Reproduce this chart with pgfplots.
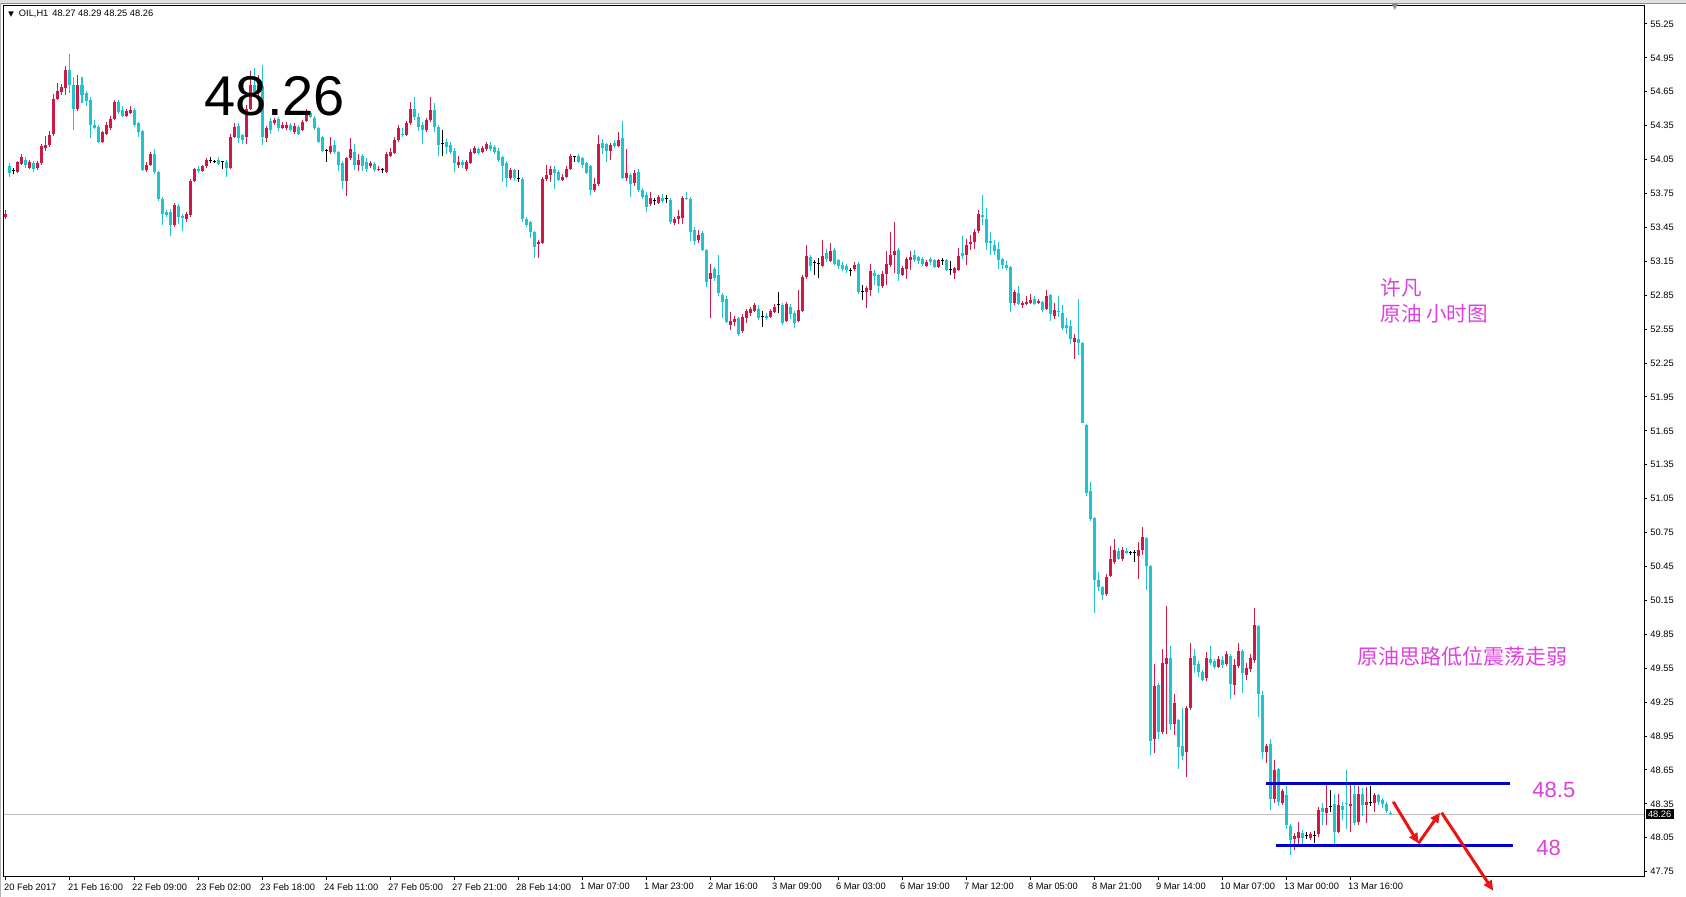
\documentclass[border=0pt]{standalone}
\usepackage{fontspec}
\setmainfont{Liberation Sans}
\newfontfamily\cjk{Noto Sans CJK SC}
\newfontfamily\dejavu{DejaVu Sans}
\usepackage{pgfplots}
\usepackage{pgfplotstable}
\pgfplotsset{compat=1.18}
\usetikzlibrary{arrows.meta}

\definecolor{upc}{RGB}{206,25,70}
\definecolor{dnc}{RGB}{32,196,206}
\definecolor{lineblue}{RGB}{0,0,205}
\definecolor{txtmag}{RGB}{221,64,221}
\definecolor{arrred}{RGB}{235,20,20}

% OIL H1 candles: bar index, open, high, low, close
\pgfplotstableread{
i o h l c
0 53.54 53.60 53.52 53.57
1 53.99 54.02 53.90 53.93
2 53.95 53.98 53.92 53.95
3 53.94 54.04 53.93 54.03
4 54.01 54.10 54.00 54.07
5 54.05 54.07 53.98 54.00
6 53.98 54.05 53.97 54.03
7 54.02 54.04 53.94 53.97
8 53.98 54.04 53.96 54.02
9 54.02 54.19 54.00 54.17
10 54.15 54.26 54.13 54.18
11 54.18 54.30 54.16 54.27
12 54.28 54.63 54.26 54.59
13 54.59 54.73 54.58 54.66
14 54.65 54.72 54.62 54.69
15 54.68 54.88 54.62 54.84
16 54.84 54.98 54.64 54.71
17 54.71 54.78 54.31 54.50
18 54.50 54.80 54.48 54.71
19 54.71 54.78 54.55 54.62
20 54.64 54.66 54.52 54.57
21 54.58 54.60 54.24 54.36
22 54.36 54.40 54.32 54.33
23 54.34 54.36 54.20 54.21
24 54.21 54.30 54.20 54.29
25 54.28 54.38 54.27 54.36
26 54.33 54.44 54.31 54.41
27 54.41 54.58 54.40 54.56
28 54.56 54.58 54.45 54.47
29 54.49 54.52 54.43 54.44
30 54.44 54.50 54.43 54.48
31 54.46 54.52 54.45 54.49
32 54.49 54.51 54.34 54.36
33 54.37 54.38 54.25 54.29
34 54.30 54.31 53.95 53.96
35 53.96 54.03 53.94 54.00
36 54.00 54.12 53.99 54.10
37 54.10 54.14 53.92 53.94
38 53.94 53.95 53.68 53.70
39 53.70 53.72 53.47 53.57
40 53.59 53.60 53.54 53.56
41 53.59 53.61 53.37 53.47
42 53.47 53.67 53.45 53.65
43 53.64 53.66 53.48 53.54
44 53.55 53.57 53.42 53.53
45 53.52 53.59 53.50 53.57
46 53.56 53.88 53.54 53.86
47 53.86 53.98 53.85 53.97
48 53.97 53.99 53.93 53.95
49 53.95 54.00 53.94 53.99
50 53.99 54.06 53.98 54.05
51 54.04 54.07 54.02 54.04
52 54.03 54.05 54.02 54.03
53 54.05 54.07 54.00 54.01
54 54.03 54.03 53.97 54.03
55 54.03 54.05 53.90 53.98
56 53.98 54.28 53.97 54.25
57 54.25 54.37 54.24 54.34
58 54.35 54.37 54.20 54.24
59 54.27 54.28 54.19 54.22
60 54.25 54.53 54.19 54.50
61 54.50 54.83 54.49 54.71
62 54.71 54.86 54.62 54.65
63 54.65 54.80 54.60 54.71
64 54.70 54.89 54.18 54.25
65 54.24 54.35 54.21 54.33
66 54.39 54.42 54.28 54.31
67 54.37 54.42 54.36 54.40
68 54.41 54.43 54.30 54.33
69 54.33 54.38 54.32 54.36
70 54.33 54.38 54.31 54.36
71 54.36 54.37 54.30 54.31
72 54.29 54.37 54.28 54.35
73 54.34 54.36 54.27 54.28
74 54.31 54.40 54.30 54.38
75 54.39 54.50 54.38 54.46
76 54.46 54.48 54.42 54.43
77 54.42 54.44 54.31 54.33
78 54.33 54.34 54.20 54.21
79 54.25 54.26 54.12 54.13
80 54.13 54.14 54.03 54.13
81 54.12 54.25 54.10 54.17
82 54.18 54.22 54.10 54.12
83 54.12 54.13 53.95 54.00
84 54.02 54.04 53.79 53.86
85 53.86 54.07 53.73 54.06
86 54.06 54.24 54.05 54.14
87 54.12 54.19 53.96 54.00
88 54.00 54.10 53.95 54.05
89 54.08 54.10 53.95 53.99
90 54.03 54.06 53.94 53.97
91 53.99 54.04 53.98 54.02
92 54.01 54.03 53.94 53.96
93 53.96 53.99 53.95 53.97
94 53.96 53.98 53.93 53.96
95 53.94 54.12 53.93 54.10
96 54.08 54.15 54.07 54.12
97 54.11 54.25 54.10 54.22
98 54.22 54.36 54.21 54.33
99 54.28 54.33 54.25 54.27
100 54.27 54.39 54.26 54.37
101 54.37 54.56 54.36 54.50
102 54.50 54.60 54.40 54.43
103 54.43 54.46 54.30 54.34
104 54.36 54.38 54.19 54.31
105 54.31 54.42 54.29 54.40
106 54.40 54.60 54.38 54.49
107 54.49 54.55 54.29 54.34
108 54.34 54.36 54.08 54.18
109 54.19 54.31 54.08 54.19
110 54.21 54.23 54.10 54.16
111 54.18 54.21 54.10 54.12
112 54.13 54.15 53.94 54.02
113 54.00 54.08 53.98 54.03
114 54.03 54.05 53.98 54.00
115 53.97 54.05 53.95 54.03
116 54.02 54.14 54.01 54.12
117 54.11 54.17 54.10 54.15
118 54.14 54.16 54.09 54.11
119 54.12 54.17 54.11 54.15
120 54.14 54.21 54.13 54.19
121 54.18 54.21 54.13 54.14
122 54.16 54.18 54.10 54.12
123 54.13 54.15 54.03 54.05
124 54.07 54.08 53.85 53.99
125 54.02 54.04 53.81 53.89
126 53.89 53.98 53.87 53.96
127 53.96 53.97 53.86 53.89
128 53.88 53.96 53.85 53.88
129 53.88 53.90 53.50 53.52
130 53.52 53.54 53.45 53.47
131 53.50 53.51 53.36 53.41
132 53.41 53.42 53.18 53.28
133 53.30 53.34 53.18 53.32
134 53.31 53.90 53.30 53.88
135 53.88 54.00 53.86 53.91
136 53.91 53.99 53.85 53.97
137 53.97 53.99 53.79 53.93
138 53.94 53.96 53.86 53.87
139 53.87 53.92 53.86 53.90
140 53.90 53.99 53.89 53.97
141 53.97 54.10 53.96 54.08
142 54.08 54.08 54.03 54.08
143 54.08 54.10 54.02 54.03
144 54.06 54.07 53.98 54.00
145 54.02 54.03 53.92 53.93
146 53.99 54.00 53.74 53.78
147 53.78 53.89 53.76 53.83
148 53.83 54.27 53.82 54.19
149 54.20 54.23 54.10 54.15
150 54.19 54.20 54.03 54.13
151 54.13 54.20 54.05 54.18
152 54.20 54.22 54.15 54.17
153 54.17 54.29 54.16 54.22
154 54.24 54.39 53.88 53.89
155 53.89 54.14 53.86 53.93
156 53.91 53.93 53.72 53.83
157 53.84 53.96 53.82 53.93
158 53.94 53.97 53.76 53.78
159 53.78 53.80 53.70 53.72
160 53.74 53.76 53.59 53.63
161 53.66 53.76 53.64 53.71
162 53.69 53.71 53.65 53.69
163 53.67 53.74 53.66 53.72
164 53.71 53.75 53.67 53.68
165 53.71 53.74 53.67 53.71
166 53.69 53.71 53.48 53.50
167 53.49 53.54 53.47 53.52
168 53.52 53.60 53.48 53.55
169 53.53 53.73 53.48 53.71
170 53.71 53.76 53.69 53.70
171 53.70 53.72 53.33 53.41
172 53.43 53.45 53.29 53.33
173 53.34 53.43 53.31 53.38
174 53.40 53.42 53.24 53.25
175 53.25 53.26 52.92 52.97
176 52.99 53.13 52.65 53.05
177 53.08 53.10 52.98 53.00
178 53.03 53.21 52.84 52.87
179 52.85 52.87 52.65 52.79
180 52.82 52.84 52.60 52.61
181 52.59 52.70 52.54 52.62
182 52.61 52.67 52.58 52.64
183 52.65 52.66 52.49 52.51
184 52.53 52.68 52.52 52.66
185 52.65 52.73 52.60 52.71
186 52.69 52.75 52.67 52.73
187 52.71 52.78 52.70 52.76
188 52.73 52.76 52.63 52.65
189 52.66 52.71 52.57 52.66
190 52.67 52.69 52.63 52.65
191 52.66 52.73 52.65 52.71
192 52.70 52.77 52.69 52.75
193 52.77 52.88 52.69 52.77
194 52.76 52.78 52.59 52.60
195 52.62 52.79 52.61 52.77
196 52.75 52.77 52.64 52.68
197 52.69 52.71 52.56 52.60
198 52.62 52.90 52.61 52.72
199 52.71 53.03 52.70 53.01
200 53.01 53.29 52.99 53.20
201 53.19 53.21 53.06 53.11
202 53.14 53.16 53.03 53.14
203 53.13 53.18 53.00 53.13
204 53.11 53.34 53.10 53.20
205 53.22 53.26 53.14 53.17
206 53.15 53.31 53.14 53.24
207 53.25 53.27 53.12 53.13
208 53.16 53.17 53.08 53.11
209 53.12 53.14 53.06 53.08
210 53.11 53.13 53.05 53.07
211 53.07 53.09 53.02 53.07
212 53.08 53.14 53.06 53.12
213 53.13 53.14 52.86 52.88
214 52.88 52.94 52.81 52.88
215 52.88 52.93 52.74 52.91
216 52.90 53.13 52.84 53.06
217 53.05 53.07 52.94 53.02
218 53.03 53.04 52.87 52.93
219 52.93 53.06 52.91 53.04
220 53.04 53.24 52.94 53.13
221 53.12 53.41 53.10 53.21
222 53.21 53.50 53.05 53.24
223 53.25 53.27 52.98 53.04
224 53.03 53.11 53.02 53.09
225 53.08 53.19 52.99 53.17
226 53.16 53.24 53.07 53.19
227 53.21 53.25 53.14 53.16
228 53.19 53.20 53.13 53.15
229 53.17 53.19 53.11 53.13
230 53.11 53.16 53.10 53.14
231 53.17 53.19 53.12 53.14
232 53.16 53.17 53.09 53.10
233 53.10 53.17 53.09 53.16
234 53.16 53.18 53.12 53.16
235 53.16 53.17 53.06 53.07
236 53.08 53.15 53.03 53.08
237 53.05 53.10 52.99 53.09
238 53.07 53.27 53.06 53.20
239 53.22 53.37 53.17 53.20
240 53.21 53.35 53.12 53.29
241 53.30 53.38 53.25 53.32
242 53.32 53.44 53.26 53.41
243 53.42 53.60 53.40 53.57
244 53.56 53.74 53.47 53.54
245 53.52 53.62 53.25 53.31
246 53.33 53.41 53.21 53.31
247 53.29 53.34 53.21 53.24
248 53.26 53.32 53.08 53.16
249 53.17 53.18 53.08 53.12
250 53.12 53.15 53.07 53.09
251 53.10 53.11 52.70 52.78
252 52.78 52.90 52.76 52.88
253 52.87 52.93 52.76 52.77
254 52.76 52.80 52.74 52.78
255 52.77 52.84 52.76 52.79
256 52.78 52.86 52.77 52.81
257 52.82 52.84 52.76 52.77
258 52.78 52.82 52.77 52.80
259 52.79 52.80 52.70 52.72
260 52.73 52.90 52.72 52.84
261 52.85 52.86 52.62 52.68
262 52.67 52.78 52.64 52.72
263 52.71 52.84 52.66 52.70
264 52.69 52.76 52.54 52.56
265 52.59 52.65 52.51 52.56
266 52.58 52.63 52.42 52.46
267 52.44 52.51 52.29 52.47
268 52.46 52.82 52.32 52.43
269 52.43 52.44 51.72 51.72
270 51.70 51.71 51.07 51.10
271 51.12 51.20 50.85 50.87
272 50.88 50.89 50.04 50.33
273 50.33 50.40 50.23 50.27
274 50.27 50.28 50.15 50.20
275 50.21 50.38 50.19 50.36
276 50.37 50.63 50.36 50.52
277 50.49 50.69 50.47 50.60
278 50.59 50.61 50.51 50.52
279 50.52 50.62 50.50 50.60
280 50.59 50.61 50.56 50.57
281 50.57 50.59 50.55 50.57
282 50.57 50.60 50.49 50.57
283 50.54 50.67 50.34 50.60
284 50.60 50.80 50.55 50.71
285 50.70 50.71 50.24 50.45
286 50.45 50.46 48.78 48.91
287 48.92 49.59 48.80 49.39
288 49.40 49.42 48.92 48.99
289 48.99 49.72 48.97 49.60
290 49.59 50.10 48.97 49.64
291 49.64 49.75 49.00 49.06
292 49.06 49.32 48.96 49.24
293 49.09 49.10 48.66 48.85
294 48.86 49.20 48.74 48.77
295 48.81 49.22 48.59 49.20
296 49.20 49.77 49.18 49.64
297 49.66 49.72 49.51 49.58
298 49.59 49.61 49.47 49.52
299 49.52 49.53 49.44 49.45
300 49.46 49.69 49.44 49.64
301 49.63 49.75 49.58 49.60
302 49.61 49.63 49.54 49.56
303 49.56 49.66 49.55 49.63
304 49.62 49.66 49.55 49.58
305 49.59 49.70 49.57 49.68
306 49.66 49.68 49.28 49.41
307 49.40 49.63 49.31 49.58
308 49.57 49.77 49.55 49.70
309 49.70 49.72 49.33 49.51
310 49.49 49.60 49.45 49.55
311 49.54 49.68 49.52 49.64
312 49.62 50.08 49.60 49.93
313 49.92 49.93 49.12 49.32
314 49.31 49.35 48.75 48.81
315 48.81 48.88 48.71 48.86
316 48.88 48.92 48.30 48.39
317 48.39 48.74 48.36 48.65
318 48.66 48.67 48.33 48.37
319 48.36 48.48 48.34 48.46
320 48.43 48.51 48.13 48.16
321 48.15 48.17 47.90 48.03
322 48.04 48.09 47.94 48.07
323 48.05 48.19 47.97 48.10
324 48.09 48.12 47.97 48.05
325 48.07 48.10 48.04 48.07
326 48.05 48.10 48.03 48.08
327 48.07 48.11 48.00 48.07
328 48.08 48.32 48.06 48.30
329 48.31 48.36 48.16 48.28
330 48.27 48.52 48.16 48.31
331 48.33 48.47 48.28 48.33
332 48.35 48.44 47.97 48.10
333 48.10 48.44 48.09 48.34
334 48.33 48.37 48.21 48.30
335 48.36 48.65 48.13 48.35
336 48.33 48.54 48.10 48.35
337 48.44 48.53 48.16 48.18
338 48.19 48.51 48.16 48.44
339 48.44 48.49 48.24 48.34
340 48.34 48.50 48.18 48.37
341 48.36 48.51 48.33 48.36
342 48.36 48.45 48.28 48.43
343 48.43 48.44 48.34 48.37
344 48.38 48.40 48.31 48.35
345 48.35 48.37 48.27 48.29
346 48.27 48.29 48.25 48.26
}\candles

\pgfplotsset{
  wick/.style={draw=none, forget plot,
    error bars/y dir=plus, error bars/y explicit, error bars/error mark=none,
    error bars/error bar style={draw=#1, line width=0.5pt}},
  body/.style={draw=none, forget plot,
    error bars/y dir=plus, error bars/y explicit, error bars/error mark=none,
    error bars/error bar style={draw=#1, line width=1.5pt}},
}

\begin{document}
\begin{tikzpicture}
\useasboundingbox (0,0) rectangle (843pt,448.5pt);
% window chrome
\fill[black!12] (0,447pt) rectangle (843pt,448.5pt);
\draw[black!45, line width=0.4pt] (0,447pt) -- (843pt,447pt);
\draw[black!30, line width=0.5pt] (0.3pt,0) -- (0.3pt,447pt);
\begin{axis}[
  at={(2pt,10pt)}, anchor=south west,
  width=820pt, height=435.5pt, scale only axis,
  xmin=-0.5, xmax=409.5, ymin=47.703, ymax=55.409,
  clip=false,
  axis line style={line width=0.5pt},
  tick align=outside, major tick length=1.5pt,
  tick style={black, line width=0.5pt},
  xtick pos=bottom, ytick pos=right, yticklabel pos=right,
  xtick={0,16,...,336},
  xticklabels={20 Feb 2017,21 Feb 16:00,22 Feb 09:00,23 Feb 02:00,23 Feb 18:00,24 Feb 11:00,27 Feb 05:00,27 Feb 21:00,28 Feb 14:00,1 Mar 07:00,1 Mar 23:00,2 Mar 16:00,3 Mar 09:00,6 Mar 03:00,6 Mar 19:00,7 Mar 12:00,8 Mar 05:00,8 Mar 21:00,9 Mar 14:00,10 Mar 07:00,13 Mar 00:00,13 Mar 16:00},
  ytick={47.75,48.05,48.35,48.65,48.95,49.25,49.55,49.85,50.15,50.45,50.75,51.05,51.35,51.65,51.95,52.25,52.55,52.85,53.15,53.45,53.75,54.05,54.35,54.65,54.95,55.25},
  yticklabels={47.75,48.05,48.35,48.65,48.95,49.25,49.55,49.85,50.15,50.45,50.75,51.05,51.35,51.65,51.95,52.25,52.55,52.85,53.15,53.45,53.75,54.05,54.35,54.65,54.95,55.25},
  ticklabel style={font=\fontsize{4.65}{5.5}\selectfont, inner sep=0pt},
  xticklabel style={anchor=north west, xshift=-1.1pt, yshift=-1.5pt},
  yticklabel style={anchor=west, xshift=1.5pt},
]
% bid line
\addplot[black!25, line width=0.5pt, forget plot] coordinates {(-0.5,48.26) (409.5,48.26)};

% bullish candles
\addplot[wick=upc] table[x=i, y expr={\thisrow{c}>\thisrow{o} ? \thisrow{l} : nan}, y error expr={\thisrow{h}-\thisrow{l}}] {\candles};
\addplot[body=upc] table[x=i, y expr={\thisrow{c}>\thisrow{o} ? \thisrow{o} : nan}, y error expr={\thisrow{c}-\thisrow{o}}] {\candles};
% bearish candles
\addplot[wick=dnc] table[x=i, y expr={\thisrow{c}<\thisrow{o} ? \thisrow{l} : nan}, y error expr={\thisrow{h}-\thisrow{l}}] {\candles};
\addplot[body=dnc] table[x=i, y expr={\thisrow{c}<\thisrow{o} ? \thisrow{c} : nan}, y error expr={\thisrow{o}-\thisrow{c}}] {\candles};
% doji
\addplot[wick=black] table[x=i, y expr={\thisrow{c}==\thisrow{o} ? \thisrow{l} : nan}, y error expr={\thisrow{h}-\thisrow{l}}] {\candles};
\addplot[body=black] table[x=i, y expr={\thisrow{c}==\thisrow{o} ? \thisrow{o}-0.0045 : nan}, y error expr={0.009}] {\candles};

% range lines
\addplot[lineblue, line width=1.5pt] coordinates {(315,48.526) (376,48.526)};
\addplot[lineblue, line width=1.5pt] coordinates {(317.5,47.984) (376.8,47.984)};
% forecast arrows
\addplot[arrred, line width=1.5pt, -{Triangle[length=5pt,width=4.5pt]}] coordinates {(346.8,48.369) (353.1,48.001)};
\addplot[arrred, line width=1.5pt, -{Triangle[length=5pt,width=4.5pt]}] coordinates {(353.1,48.001) (358.5,48.272)};
\addplot[arrred, line width=1.5pt, -{Triangle[length=5pt,width=4.5pt]}] coordinates {(358.9,48.272) (371.8,47.582)};

% texts
\node[anchor=west, inner sep=0pt, font=\fontsize{4.65}{5.5}\selectfont] at (axis cs:0.5,55.338)
  {{\dejavu\fontsize{3.6}{4}\selectfont ▼}\hspace{2.5pt}OIL,H1\hspace{2pt}48.27 48.29 48.25 48.26};
\node[anchor=west, inner sep=0pt, font=\fontsize{28}{30}\selectfont] at (axis cs:49.6,54.609) {48.26};
\node[anchor=west, inner sep=0pt, text=txtmag, font=\cjk\fontsize{10.3}{12}\selectfont] at (axis cs:343.5,52.914) {许凡};
\node[anchor=west, inner sep=0pt, text=txtmag, font=\cjk\fontsize{10.3}{12}\selectfont] at (axis cs:343.5,52.684) {原油 小时图};
\node[anchor=west, inner sep=0pt, text=txtmag, font=\cjk\fontsize{10.5}{12}\selectfont] at (axis cs:337.75,49.650) {原油思路低位震荡走弱};
\node[anchor=west, inner sep=0pt, text=txtmag, font=\fontsize{11}{13}\selectfont] at (axis cs:381.5,48.473) {48.5};
\node[anchor=west, inner sep=0pt, text=txtmag, font=\fontsize{11}{13}\selectfont] at (axis cs:382.5,47.960) {48};
% current price label
\node[anchor=west, fill=black, text=white, inner xsep=1.2pt, inner ysep=0.9pt, xshift=0.6pt,
  font=\fontsize{4.65}{5.5}\selectfont] at (axis cs:409.5,48.26) {48.26};
% chart shift marker
\node[anchor=north, inner sep=0pt, text=black!45, font=\dejavu\fontsize{4}{4}\selectfont] at (axis cs:347.25,55.43) {▼};
\end{axis}
\end{tikzpicture}
\end{document}
